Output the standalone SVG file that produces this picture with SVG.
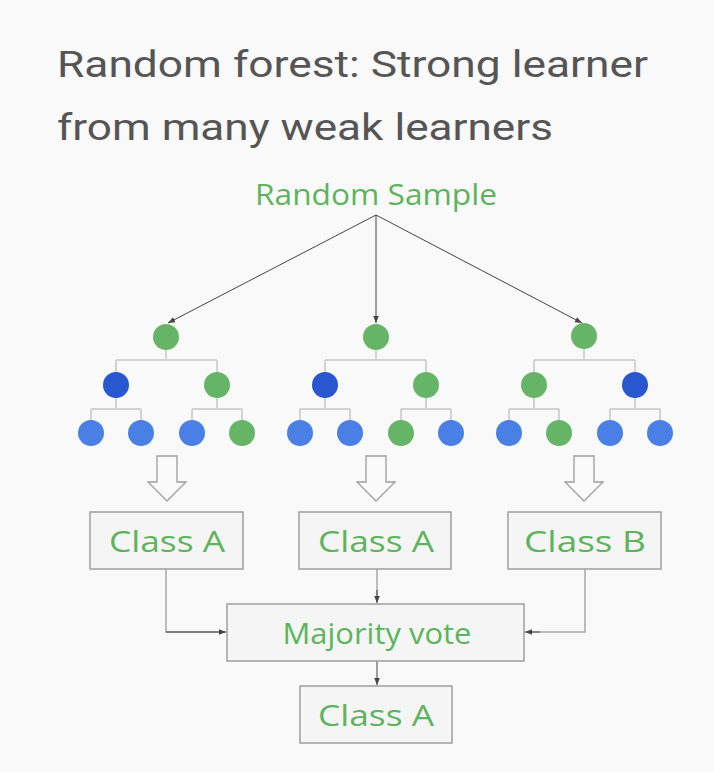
<svg xmlns="http://www.w3.org/2000/svg" width="714" height="772" viewBox="0 0 714 772">
<defs>
<marker id="ah" viewBox="0 0 10 10" refX="10" refY="5" markerWidth="7" markerHeight="7" orient="auto" markerUnits="userSpaceOnUse">
<path d="M0,1 L10,5 L0,9 Z" fill="#444"/>
</marker>
<style>
.title{font-family:Roboto,"Liberation Sans",sans-serif;font-size:37px;fill:#555}
.hand{font-family:"Open Sans","Liberation Sans",sans-serif;fill:#5cb45c;text-anchor:middle}
.box{fill:#f5f5f5;stroke:#9e9e9e;stroke-width:1.5}
.conn{fill:none;stroke:#444;stroke-width:1}
.gconn{fill:none;stroke:#a8a8a8;stroke-width:1.5}
.tl{fill:none;stroke:#d2d2d2;stroke-width:2}
.g{fill:#66b566}
.d{fill:#2857cf}
.b{fill:#4a80e6}
.hollow{fill:#fafafa;stroke:#9e9e9e;stroke-width:1.3}
</style>
</defs>
<rect width="714" height="772" fill="#f9f9f9"/>
<g id="title">
<text class="title" x="57" y="77" textLength="591" lengthAdjust="spacingAndGlyphs">Random forest: Strong learner</text>
<text class="title" x="57" y="140" textLength="496" lengthAdjust="spacingAndGlyphs">from many weak learners</text>
</g>
<g id="random-sample"><text class="hand" x="376" y="205" font-size="30" textLength="242" lengthAdjust="spacingAndGlyphs">Random Sample</text></g>

<g id="connectors">
<line class="conn" x1="376" y1="215" x2="168" y2="323" marker-end="url(#ah)"/>
<line class="conn" x1="376" y1="215" x2="376" y2="323" marker-end="url(#ah)"/>
<line class="conn" x1="376" y1="215" x2="582" y2="323" marker-end="url(#ah)"/>
<polyline class="gconn" points="166,569 166,632 225,632"/>
<line class="conn" x1="166" y1="632" x2="226" y2="632" marker-end="url(#ah)"/>
<line class="gconn" x1="377" y1="569" x2="377" y2="596"/>
<line class="conn" x1="377" y1="590" x2="377" y2="603" marker-end="url(#ah)"/>
<polyline class="gconn" points="585,569 585,632 530,632"/>
<line class="conn" x1="540" y1="632" x2="525" y2="632" marker-end="url(#ah)"/>
<line class="conn" x1="377" y1="661" x2="377" y2="685" marker-end="url(#ah)"/>
</g>

<g id="tree1">
<path class="tl" d="M166,337 V360 M116,360 H217 M116,360 V385 M217,360 V385 M116,385 V409 M91,409 H141 M91,409 V433 M141,409 V433 M217,385 V409 M192,409 H242 M192,409 V433 M242,409 V433"/>
<circle class="g" cx="166" cy="337" r="13"/>
<circle class="d" cx="116" cy="385" r="13"/>
<circle class="g" cx="217" cy="385" r="13"/>
<circle class="b" cx="91" cy="433" r="13"/>
<circle class="b" cx="141" cy="433" r="13"/>
<circle class="b" cx="192" cy="433" r="13"/>
<circle class="g" cx="242" cy="433" r="13"/>
</g>
<g id="tree2">
<path class="tl" d="M376,337 V360 M325,360 H426 M325,360 V385 M426,360 V385 M325,385 V409 M300,409 H350 M300,409 V433 M350,409 V433 M426,385 V409 M401,409 H451 M401,409 V433 M451,409 V433"/>
<circle class="g" cx="376" cy="337" r="13"/>
<circle class="d" cx="325" cy="385" r="13"/>
<circle class="g" cx="426" cy="385" r="13"/>
<circle class="b" cx="300" cy="433" r="13"/>
<circle class="b" cx="350" cy="433" r="13"/>
<circle class="g" cx="401" cy="433" r="13"/>
<circle class="b" cx="451" cy="433" r="13"/>
</g>
<g id="tree3">
<path class="tl" d="M584,336 V360 M534,360 H635 M534,360 V385 M635,360 V385 M534,385 V409 M509,409 H559 M509,409 V433 M559,409 V433 M635,385 V409 M610,409 H660 M610,409 V433 M660,409 V433"/>
<circle class="g" cx="584" cy="336" r="13"/>
<circle class="g" cx="534" cy="385" r="13"/>
<circle class="d" cx="635" cy="385" r="13"/>
<circle class="b" cx="509" cy="433" r="13"/>
<circle class="g" cx="559" cy="433" r="13"/>
<circle class="b" cx="610" cy="433" r="13"/>
<circle class="b" cx="660" cy="433" r="13"/>
</g>

<g id="arrow1"><path class="hollow" d="M157,456 H177 V482 H186 L167,501 L148,482 H157 Z"/></g>
<g id="arrow2"><path class="hollow" d="M366,456 H386 V482 H395 L376,501 L357,482 H366 Z"/></g>
<g id="arrow3"><path class="hollow" d="M574,456 H594 V482 H603 L584,501 L565,482 H574 Z"/></g>

<g id="classA1"><rect class="box" x="90" y="512" width="153" height="57"/><text class="hand" x="167" y="552" font-size="30" textLength="116" lengthAdjust="spacingAndGlyphs">Class A</text></g>
<g id="classA2"><rect class="box" x="299" y="512" width="152" height="57"/><text class="hand" x="376" y="552" font-size="30" textLength="116" lengthAdjust="spacingAndGlyphs">Class A</text></g>
<g id="classB"><rect class="box" x="508" y="512" width="153" height="57"/><text class="hand" x="585" y="552" font-size="30" textLength="122" lengthAdjust="spacingAndGlyphs">Class B</text></g>
<g id="majority"><rect class="box" x="227" y="604" width="297" height="57"/><text class="hand" x="377" y="644" font-size="30" textLength="189" lengthAdjust="spacingAndGlyphs">Majority vote</text></g>
<g id="final"><rect class="box" x="300" y="686" width="152" height="57"/><text class="hand" x="376" y="726" font-size="30" textLength="116" lengthAdjust="spacingAndGlyphs">Class A</text></g>
</svg>
